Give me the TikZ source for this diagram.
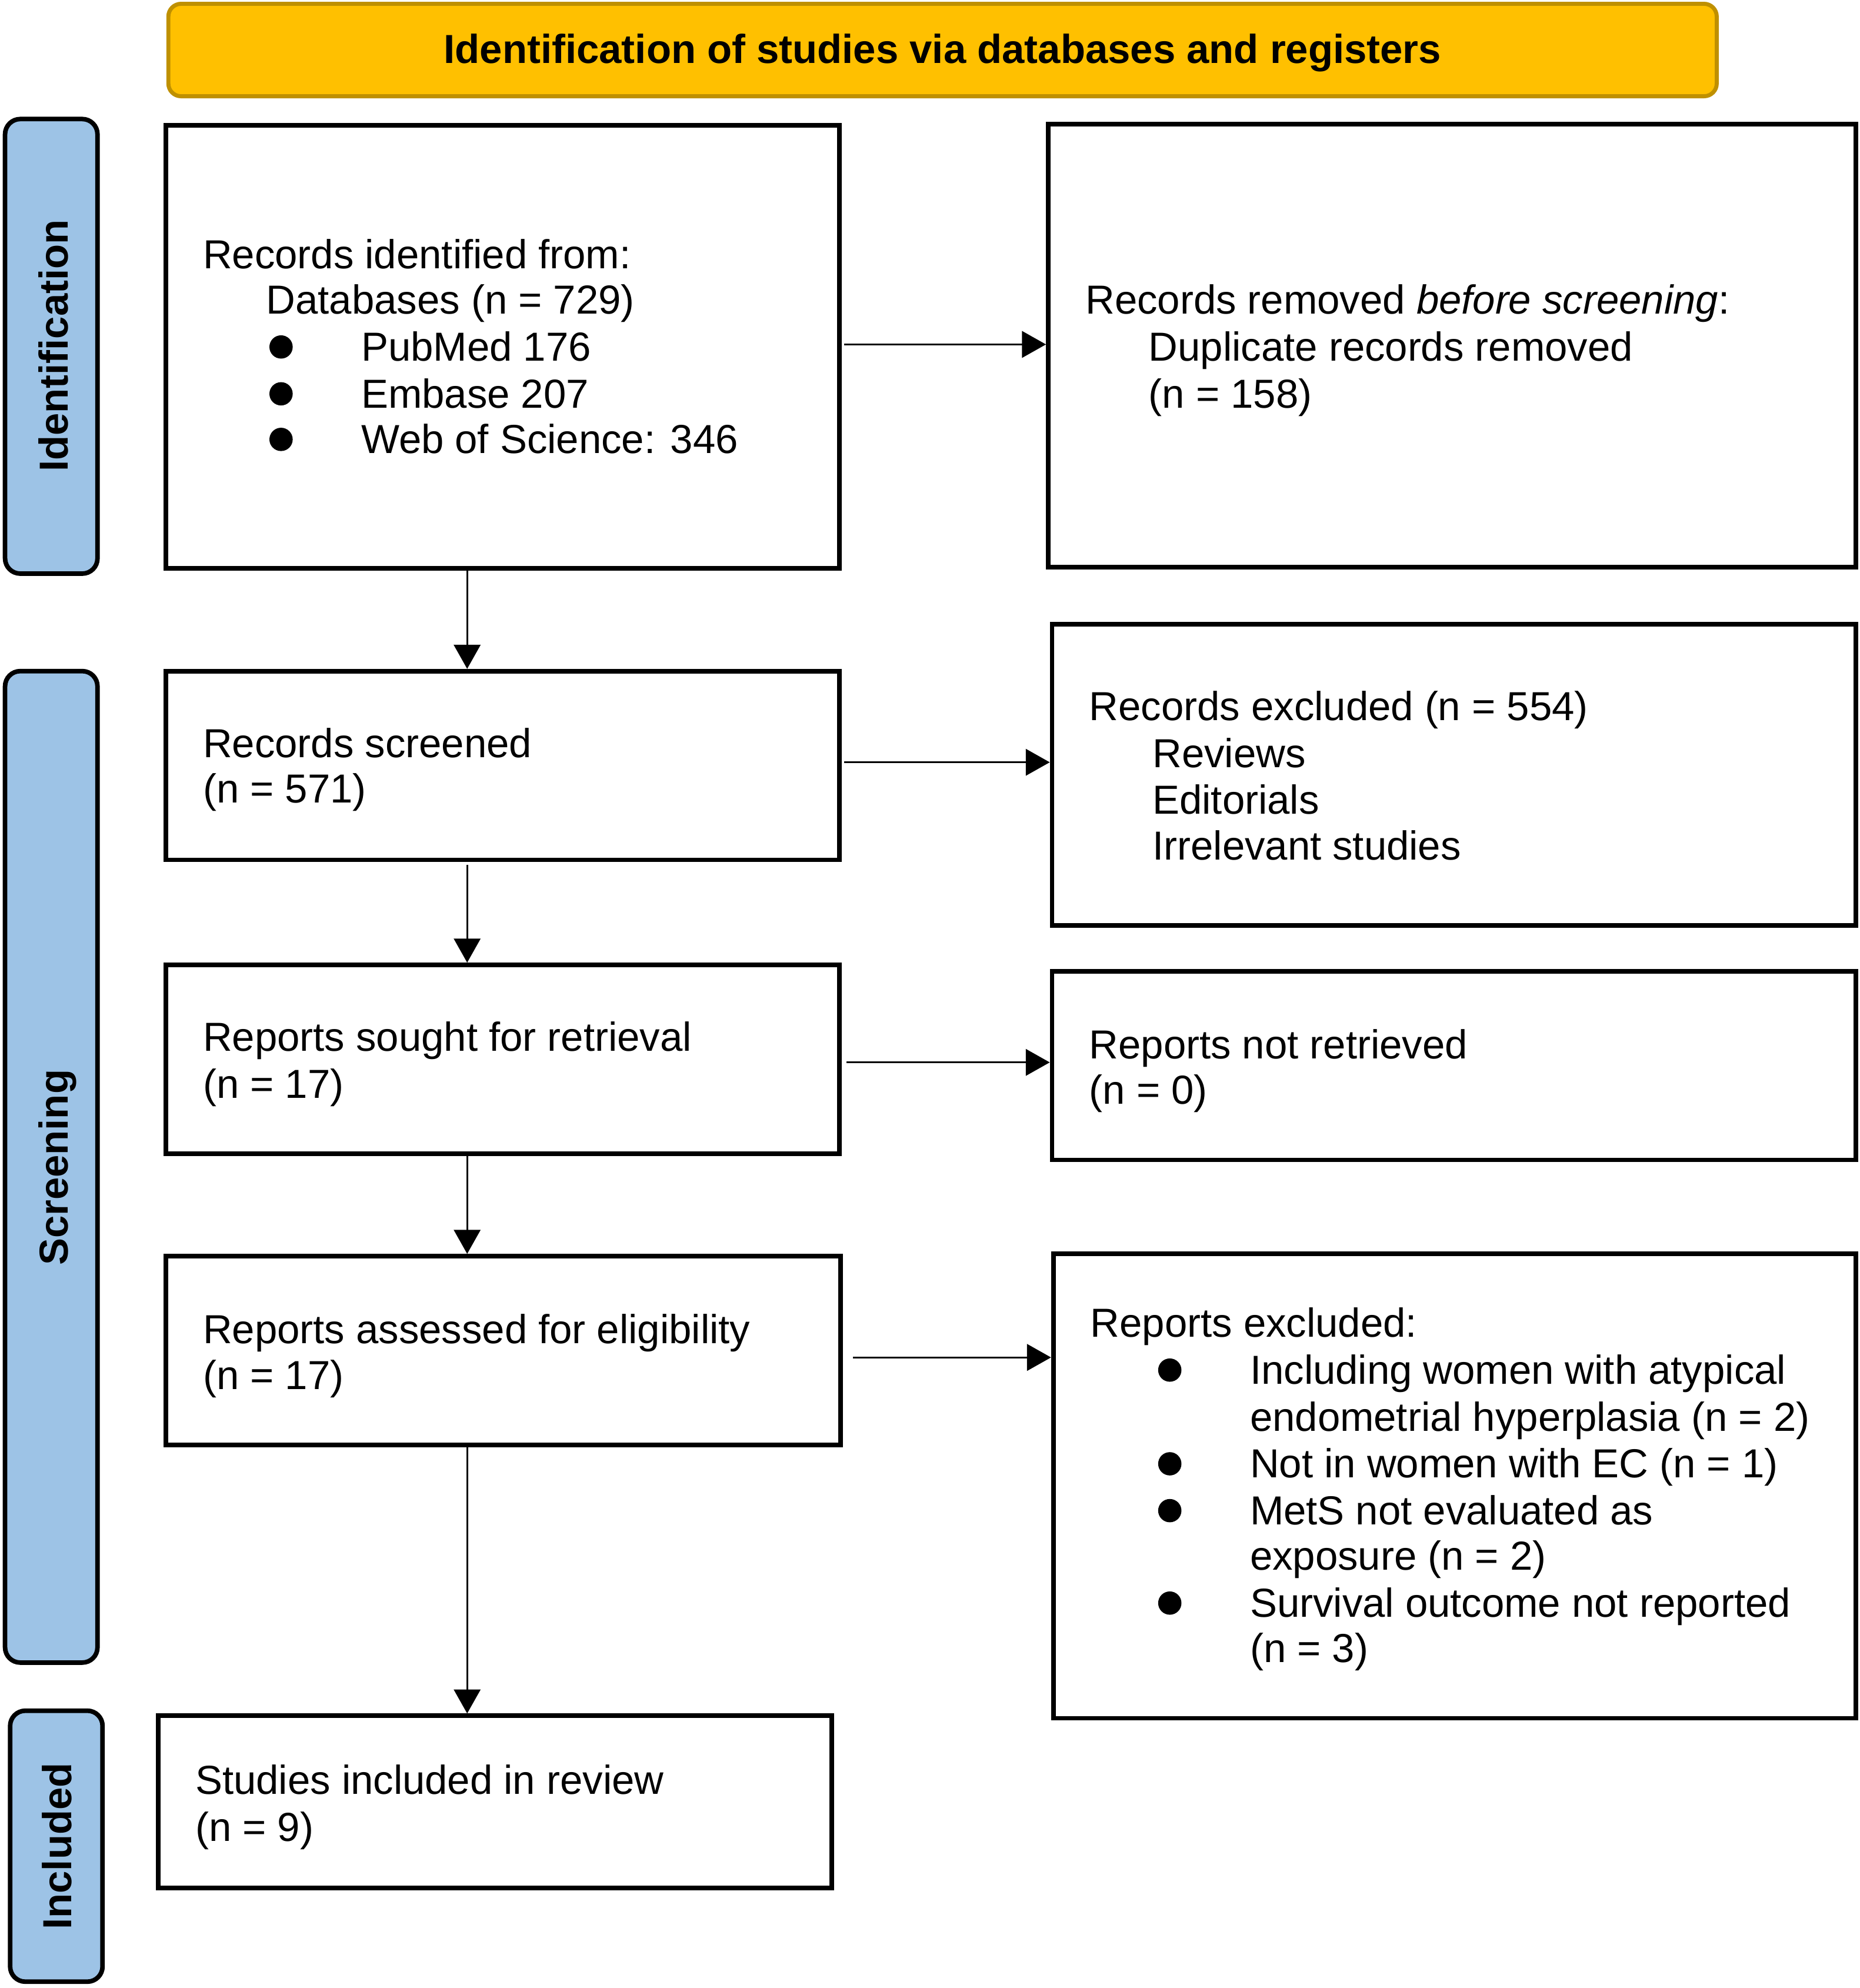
\documentclass[tikz,border=0pt]{standalone}
\usepackage{fontspec}
\setmainfont{Liberation Sans}
\usetikzlibrary{arrows.meta,fit}
\definecolor{barblue}{HTML}{9DC3E6}
\definecolor{gold}{HTML}{FFC000}
\definecolor{golddark}{HTML}{BF9000}
\begin{document}
\begin{tikzpicture}[x=0.5pt,y=-0.5pt,
  box/.style={draw=black,line width=1.8pt,inner sep=0pt},
  bar/.style={draw=black,line width=1.8pt,fill=barblue,rounded corners=6pt,inner sep=0pt},
  banner/.style={draw=golddark,line width=1.6pt,fill=gold,rounded corners=5pt,inner sep=0pt},
  txt/.style={anchor=base west,inner sep=0pt,font=\fontsize{16}{18.35}\selectfont},
  sidelbl/.style={anchor=base,rotate=90,inner sep=0pt,font=\fontsize{16}{18.35}\selectfont\bfseries},
  dot/.style={circle,fill=black,inner sep=0pt,minimum size=9.2pt},
  arr/.style={line width=0.75pt,-{Triangle[length=9.5pt,width=10.5pt]}}]
\useasboundingbox (0,0) rectangle (1469,1570);

% banner
\node[banner,fit={(133,3) (1356,76)}] (ban) {};
\node[anchor=base,inner sep=0pt,font=\fontsize{16}{18.35}\selectfont\bfseries] (bantxt) at (744.5,50) {Identification of studies via databases and registers};

% side bars
\node[bar,fit={(4,94) (77,453)}] (sb1) {};
\node[sidelbl] (sl1) at (53.5,273) {Identification};
\node[bar,fit={(4,530) (77,1313)}] (sb2) {};
\node[sidelbl] (sl2) at (53.5,922) {Screening};
\node[bar,fit={(8,1351) (81,1565)}] (sb3) {};
\node[sidelbl] (sl3) at (56.5,1458) {Included};

% boxes
\node[box,fit={(131,99) (663,449)}] (b1) {};
\node[box,fit={(828,98) (1466,448)}] (b2) {};
\node[box,fit={(131,530) (663,679)}] (b3) {};
\node[box,fit={(831,493) (1466,731)}] (b4) {};
\node[box,fit={(131,762) (663,911)}] (b5) {};
\node[box,fit={(831,767) (1466,916)}] (b6) {};
\node[box,fit={(131,992) (664,1141)}] (b7) {};
\node[box,fit={(832,990) (1466,1357)}] (b8) {};
\node[box,fit={(125,1355) (657,1491)}] (b9) {};

% box 1 text
\node[txt] (t1a) at (160,212) {Records identified from:};
\node[txt] (t1b) at (210,248) {Databases (n = 729)};
\node[dot] (d1a) at (222,274) {};
\node[dot] (d1b) at (222,311) {};
\node[dot] (d1c) at (222,347) {};
\node[txt] (t1c) at (285,285) {PubMed 176};
\node[txt] (t1d) at (285,322) {Embase 207};
\node[txt] (t1e) at (285,358) {Web of Science: 346};

% box 2 text
\node[txt] (t2a) at (857,248) {Records removed \textit{before screening}:};
\node[txt] (t2b) at (907,285) {Duplicate records removed};
\node[txt] (t2c) at (907,322) {(n = 158)};

% box 3
\node[txt] (t3a) at (160,598) {Records screened};
\node[txt] (t3b) at (160,634) {(n = 571)};

% box 4
\node[txt] (t4a) at (860,569) {Records excluded (n = 554)};
\node[txt] (t4b) at (910,606) {Reviews};
\node[txt] (t4c) at (910,643) {Editorials};
\node[txt] (t4d) at (910,679) {Irrelevant studies};

% box 5
\node[txt] (t5a) at (160,830) {Reports sought for retrieval};
\node[txt] (t5b) at (160,867) {(n = 17)};

% box 6
\node[txt] (t6a) at (860,836) {Reports not retrieved};
\node[txt] (t6b) at (860,872) {(n = 0)};

% box 7
\node[txt] (t7a) at (160,1061) {Reports assessed for eligibility};
\node[txt] (t7b) at (160,1097) {(n = 17)};

% box 8
\node[txt] (t8a) at (861,1056) {Reports excluded:};
\node[dot] (d8a) at (924,1082) {};
\node[dot] (d8b) at (924,1156) {};
\node[dot] (d8c) at (924,1193) {};
\node[dot] (d8d) at (924,1266) {};
\node[txt] (t8b) at (987,1093) {Including women with atypical};
\node[txt] (t8c) at (987,1130) {endometrial hyperplasia (n = 2)};
\node[txt] (t8d) at (987,1167) {Not in women with EC (n = 1)};
\node[txt] (t8e) at (987,1204) {MetS not evaluated as};
\node[txt] (t8f) at (987,1240) {exposure (n = 2)};
\node[txt] (t8g) at (987,1277) {Survival outcome not reported};
\node[txt] (t8h) at (987,1313) {(n = 3)};

% box 9
\node[txt] (t9a) at (154,1417) {Studies included in review};
\node[txt] (t9b) at (154,1454) {(n = 9)};

% connectors
\coordinate (vx) at (369,0);
\coordinate (h1) at (0,272);
\coordinate (h3) at (0,602);
\coordinate (h5) at (0,839);
\coordinate (h7) at (0,1072);
\draw[arr] ([xshift=1pt]b1.east |- h1) -- (b2.west |- h1);
\draw[arr] ([xshift=1pt]b3.east |- h3) -- (b4.west |- h3);
\draw[arr] ([xshift=2pt]b5.east |- h5) -- (b6.west |- h5);
\draw[arr] ([xshift=4pt]b7.east |- h7) -- (b8.west |- h7);
\draw[arr] (b1.south -| vx) -- (b3.north -| vx);
\draw[arr] ([yshift=-1pt]b3.south -| vx) -- (b5.north -| vx);
\draw[arr] (b5.south -| vx) -- (b7.north -| vx);
\draw[arr] (b7.south -| vx) -- (b9.north -| vx);
\end{tikzpicture}
\end{document}
